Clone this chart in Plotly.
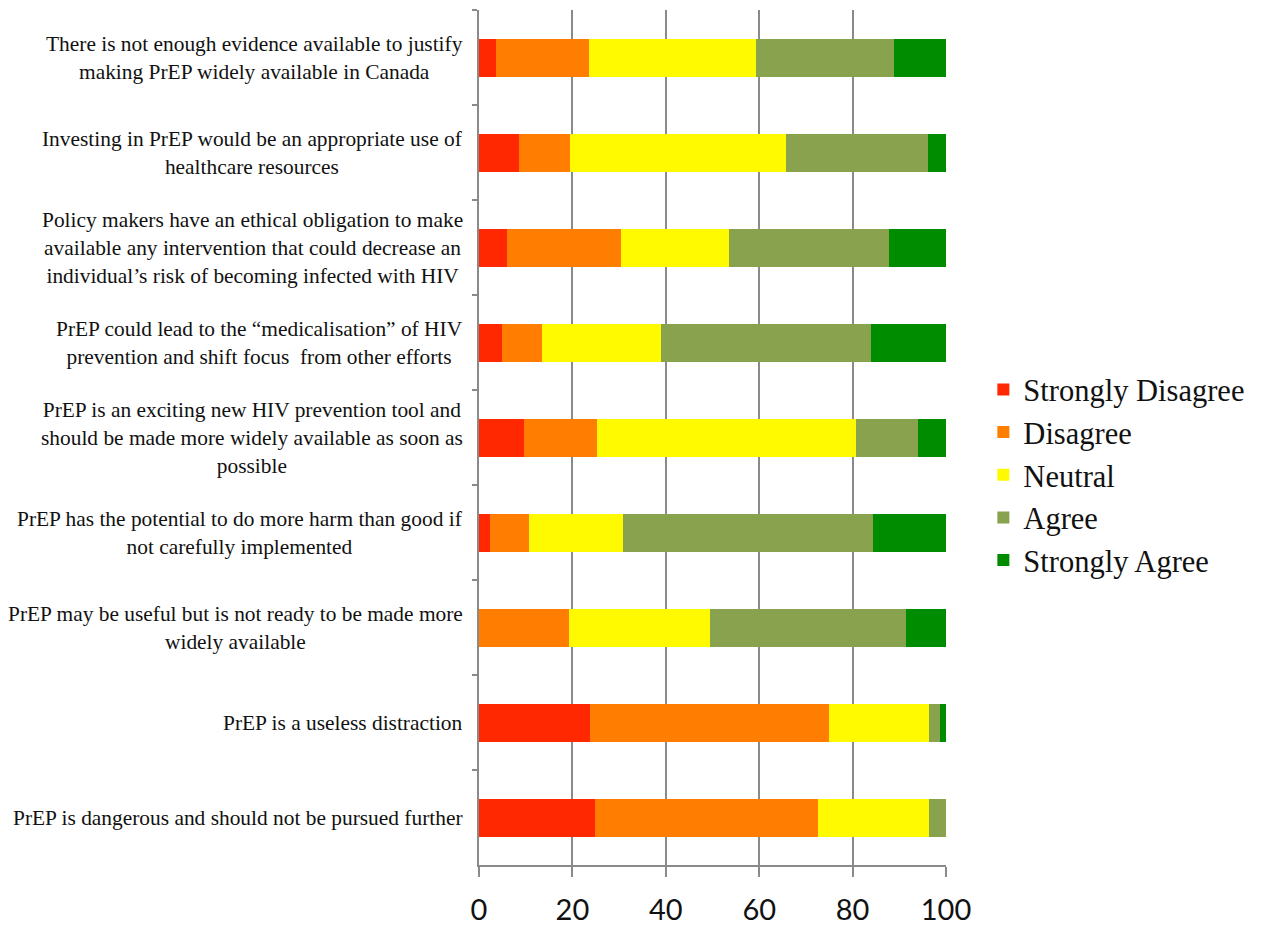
import plotly.graph_objects as go

statements = [
    "There is not enough evidence available to justify<br>making PrEP widely available in Canada",
    "Investing in PrEP would be an appropriate use of<br>healthcare resources",
    "Policy makers have an ethical obligation to make<br>available any intervention that could decrease an<br>individual’s risk of becoming infected with HIV",
    "PrEP could lead to the “medicalisation” of HIV<br>prevention and shift focus  from other efforts",
    "PrEP is an exciting new HIV prevention tool and<br>should be made more widely available as soon as<br>possible",
    "PrEP has the potential to do more harm than good if<br>not carefully implemented",
    "PrEP may be useful but is not ready to be made more<br>widely available",
    "PrEP is a useless distraction",
    "PrEP is dangerous and should not be pursued further",
]

strongly_disagree = [3.7, 8.5, 6.1, 4.9, 9.6, 2.4, 0.0, 23.7, 24.9]
disagree = [19.8, 10.9, 24.4, 8.5, 15.6, 8.3, 19.2, 51.2, 47.6]
neutral = [35.8, 46.4, 23.1, 25.5, 55.5, 20.1, 30.2, 21.4, 23.8]
agree = [29.5, 30.4, 34.1, 45.1, 13.2, 53.6, 42.0, 2.4, 3.7]
strongly_agree = [11.2, 3.8, 12.3, 16.0, 6.1, 15.6, 8.6, 1.3, 0.0]

x_ticks = [0, 20, 40, 60, 80, 100]

series = [
    ("Strongly Disagree", strongly_disagree, "#FF2800"),
    ("Disagree", disagree, "#FF7D00"),
    ("Neutral", neutral, "#FFFA00"),
    ("Agree", agree, "#88A24E"),
    ("Strongly Agree", strongly_agree, "#008C00"),
]

fig = go.Figure()
for name, vals, color in series:
    fig.add_trace(go.Bar(
        y=statements, x=vals, name=name, orientation="h",
        marker=dict(color=color, line=dict(width=0)),
    ))

for s in statements:
    fig.add_annotation(
        x=0, xref="paper", y=s, yref="y", text=s, showarrow=False,
        xanchor="right", yanchor="middle", align="center", xshift=-14,
        font=dict(family="Liberation Serif", size=21.4, color="#111111"),
    )

grid = "#8A8A8A"
fig.update_layout(
    width=1262, height=931,
    margin=dict(l=479, r=316, t=10, b=66),
    barmode="stack", bargap=0.6,
    plot_bgcolor="white", paper_bgcolor="white",
    showlegend=True,
    legend=dict(
        x=1.08, xanchor="left", y=0.456, yanchor="middle",
        traceorder="normal",
        font=dict(family="Liberation Serif", size=30.5, color="#111111"),
        bgcolor="rgba(0,0,0,0)", itemwidth=30,
    ),
    xaxis=dict(
        range=[0, 100], tickvals=x_ticks, ticktext=[str(t) for t in x_ticks],
        showgrid=True, gridcolor=grid, gridwidth=1.5,
        showline=True, linecolor=grid, linewidth=1.5,
        ticks="outside", ticklen=10, tickcolor=grid, tickwidth=1.5,
        tickfont=dict(family="Lato", size=29, color="#111111"),
        ticklabelstandoff=8, automargin=False,
        zeroline=False,
    ),
    yaxis=dict(
        autorange="reversed", showticklabels=False, automargin=False,
        showline=True, linecolor=grid, linewidth=1.5,
        ticks="outside", ticklen=5, tickcolor=grid, tickwidth=1.5,
        tickson="boundaries", showgrid=False,
    ),
)

fig.write_html("out.html")
